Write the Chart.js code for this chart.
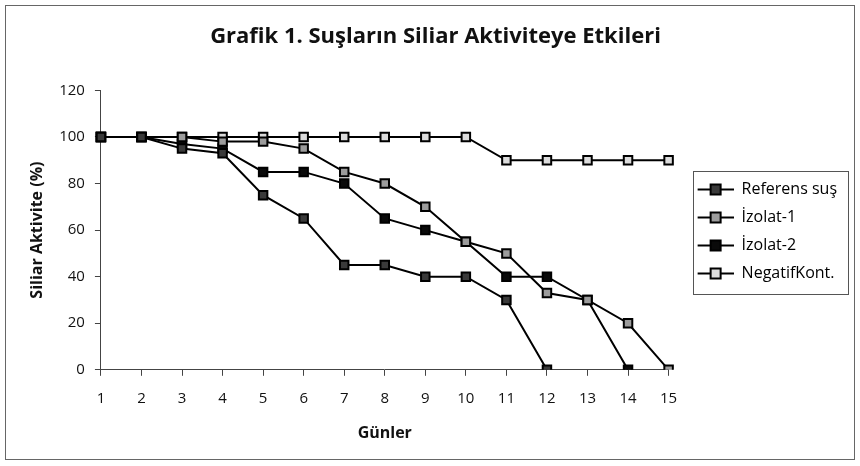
<!DOCTYPE html>
<html>
<head>
<meta charset="utf-8">
<script src="https://cdn.jsdelivr.net/npm/chart.js@4"></script>
<style>
  body { margin: 0; background: #fff; }
  #wrap { position: absolute; left: 5px; top: 5px; width: 848px; height: 453px; border: 1px solid #666; }
  #myChart { position: absolute; left: 0; top: 0; }
</style>
</head>
<body>
<div id="wrap"><canvas id="myChart" width="848" height="453"></canvas></div>
<script>
const days = ['1','2','3','4','5','6','7','8','9','10','11','12','13','14','15'];
const referens = [100, 100, 95, 93, 75, 65, 45, 45, 40, 40, 30, 0];
const izolat1 = [100, 100, 100, 98, 98, 95, 85, 80, 70, 55, 50, 33, 30, 20, 0];
const izolat2 = [100, 100, 97, 95, 85, 85, 80, 65, 60, 55, 40, 40, 30, 0];
const negatif = [100, 100, 100, 100, 100, 100, 100, 100, 100, 100, 90, 90, 90, 90, 90];

const fills = ['#3a3a3a', '#9c9c9c', '#0a0a0a', '#dcdcdc'];

// line+square icon for the legend, with some blank room on its left
const iconGap = 17;
function legendIcon(fill) {
  let c = document.createElement('canvas');
  c.width = iconGap + 36; c.height = 14;
  let g = c.getContext('2d');
  g.strokeStyle = '#000';
  g.lineWidth = 2;
  g.beginPath(); g.moveTo(iconGap, 7); g.lineTo(iconGap + 36, 7); g.stroke();
  g.fillStyle = fill;
  g.fillRect(iconGap + 13, 2, 10, 10);
  g.strokeRect(iconGap + 13, 2, 10, 10);
  return c;
}
const icons = fills.map(legendIcon);

function ds(label, data, i) {
  return {
    label: label,
    data: data,
    borderColor: '#000',
    borderWidth: 2,
    pointStyle: 'rect',
    pointRadius: 6,
    pointBorderWidth: 2,
    pointBorderColor: '#000',
    pointBackgroundColor: fills[i],
    tension: 0
  };
}

const legendBox = {
  id: 'legendBox',
  afterDraw(chart) {
    const boxes = chart.legend.legendHitBoxes;
    if (!boxes || !boxes.length) return;
    const c = chart.ctx;
    let top = Math.min(...boxes.map(b => b.top)) - 11;
    let bottom = Math.max(...boxes.map(b => b.top + b.height)) + 12;
    let left = Math.min(...boxes.map(b => b.left)) + iconGap - 5;
    c.save();
    c.strokeStyle = '#555';
    c.lineWidth = 1;
    c.strokeRect(Math.round(left) + 0.5, Math.round(top) + 0.5, 155, Math.round(bottom - top));
    c.restore();
  }
};

const font = "'Open Sans', 'DejaVu Sans', sans-serif";

new Chart(document.getElementById('myChart'), {
  type: 'line',
  data: {
    labels: days,
    datasets: [
      ds('Referens suş', referens, 0),
      ds('İzolat-1', izolat1, 1),
      ds('İzolat-2', izolat2, 2),
      ds('NegatifKont.', negatif, 3)
    ]
  },
  options: {
    responsive: false,
    animation: false,
    layout: { padding: { top: 10, left: 18, right: 7, bottom: 12 } },
    plugins: {
      title: {
        display: true,
        text: 'Grafik 1. Suşların Siliar Aktiviteye Etkileri',
        color: '#111',
        font: { family: font, size: 22, weight: 'bold' },
        padding: { top: 8, bottom: 40 }
      },
      legend: {
        position: 'right',
        labels: {
          usePointStyle: true,
          pointStyleWidth: iconGap + 36,
          boxHeight: 14,
          padding: 12,
          color: '#111',
          font: { family: font, size: 16 },
          generateLabels(chart) {
            return chart.data.datasets.map((d, i) => ({
              text: d.label,
              pointStyle: icons[i],
              fillStyle: fills[i],
              strokeStyle: '#000',
              lineWidth: 0,
              hidden: false,
              datasetIndex: i
            }));
          }
        }
      },
      tooltip: { enabled: false }
    },
    scales: {
      x: {
        offset: false,
        grid: { drawOnChartArea: false, offset: false, tickLength: 6, color: '#444' },
        border: { color: '#444', width: 1 },
        ticks: { color: '#111', font: { family: font, size: 15 }, padding: 14, maxRotation: 0 },
        title: { display: true, text: 'Günler', color: '#111', font: { family: font, size: 16, weight: 'bold' }, padding: { top: 2 } }
      },
      y: {
        min: 0,
        max: 120,
        grid: { drawOnChartArea: false, tickLength: 6, color: '#444' },
        border: { color: '#444', width: 1 },
        ticks: { stepSize: 20, color: '#111', font: { family: font, size: 15 }, padding: 10 },
        title: { display: true, text: 'Siliar Aktivite (%)', color: '#111', font: { family: font, size: 16, weight: 'bold' }, padding: { bottom: 2 } }
      }
    }
  },
  plugins: [legendBox]
});
</script>
</body>
</html>
